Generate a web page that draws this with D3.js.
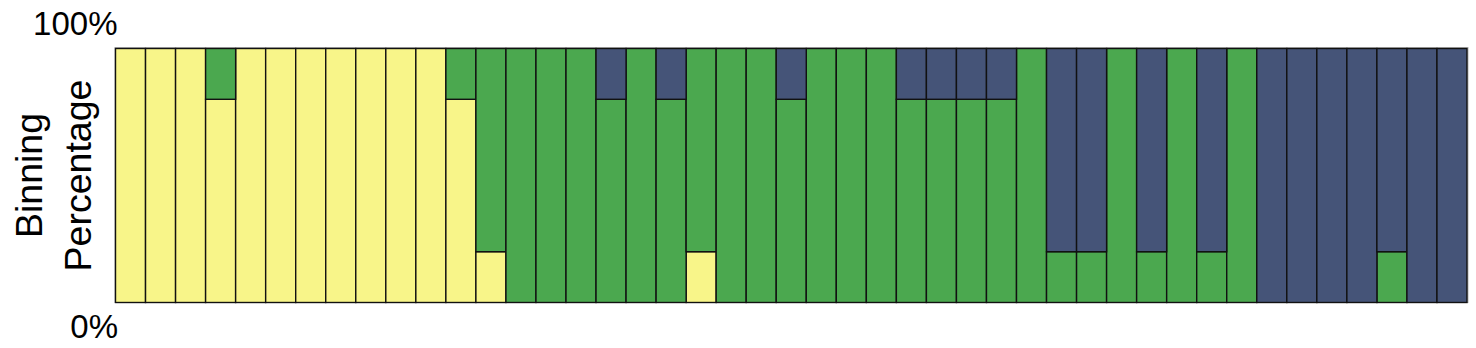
<!DOCTYPE html>
<html lang="en">
<head>
    <title>Binning Percentage</title>
    <script src="https://d3js.org/d3.v7.min.js"></script>
    <style>
        body { margin: 0; background: #fff; }
        text { font-family: "Liberation Sans", Arial, sans-serif; fill: #000; }
    </style>
</head>
<body>
    <svg width="1476" height="348" id="mainsvg"></svg>

    <script>
        // one entry per sample (45 columns)
        const samples = ['s1','s2','s3','s4','s5','s6','s7','s8','s9','s10',
            's11','s12','s13','s14','s15','s16','s17','s18','s19','s20',
            's21','s22','s23','s24','s25','s26','s27','s28','s29','s30',
            's31','s32','s33','s34','s35','s36','s37','s38','s39','s40',
            's41','s42','s43','s44','s45']

        // percentages per bin, bottom -> top
        const yellowVals = [100,100,100,80,100,100,100,100,100,100,
            100,80,20,0,0,0,0,0,0,20,
            0,0,0,0,0,0,0,0,0,0,
            0,0,0,0,0,0,0,0,0,0,
            0,0,0,0,0]
        const greenVals = [0,0,0,20,0,0,0,0,0,0,
            0,20,80,100,100,100,80,100,80,80,
            100,100,80,100,100,100,80,80,80,80,
            100,20,20,100,20,100,20,100,0,0,
            0,0,20,0,0]
        const navyVals = [0,0,0,0,0,0,0,0,0,0,
            0,0,0,0,0,0,20,0,20,0,
            0,0,20,0,0,0,20,20,20,20,
            0,80,80,0,80,0,80,0,100,100,
            100,100,80,100,100]

        const seriesKeys = ['yellow', 'green', 'navy']
        const seriesColors = ['#F8F589', '#4BA84F', '#455478']
        const tickLabels = ['0%', '100%']
        const yLabelLines = ['Binning', 'Percentage']

        const svg = d3.select('#mainsvg')
        const margin = {top: 48.5, right: 9, bottom: 45.5, left: 115.5}
        const width = +svg.attr('width')
        const height = +svg.attr('height')
        const innerWidth = width - margin.left - margin.right
        const innerHeight = height - margin.top - margin.bottom

        const data = samples.map((s, i) => ({
            sample: s,
            yellow: yellowVals[i],
            green: greenVals[i],
            navy: navyVals[i]
        }))

        const xScale = d3.scaleBand()
            .domain(samples)
            .range([0, innerWidth])
            .padding(0)

        const yScale = d3.scaleLinear()
            .domain([0, 100])
            .range([innerHeight, 0])

        const color = d3.scaleOrdinal().domain(seriesKeys).range(seriesColors)

        const stacked = d3.stack().keys(seriesKeys)(data)

        const g = svg.append('g')
            .attr('transform', `translate(${margin.left}, ${margin.top})`)

        // faint frame behind the bars
        g.append('rect')
            .attr('x', -0.5)
            .attr('y', -1)
            .attr('width', innerWidth + 1.5)
            .attr('height', innerHeight + 1)
            .attr('fill', 'none')
            .attr('stroke', '#b4b4b4')
            .attr('stroke-width', 1)

        g.selectAll('.layer')
            .data(stacked)
            .join('g')
            .attr('class', 'layer')
            .attr('fill', d => color(d.key))
            .selectAll('rect')
            .data(d => d.filter(p => p[1] - p[0] > 0))
            .join('rect')
            .attr('x', d => xScale(d.data.sample))
            .attr('y', d => yScale(d[1]))
            .attr('width', xScale.bandwidth())
            .attr('height', d => yScale(d[0]) - yScale(d[1]))
            .attr('stroke', '#111')
            .attr('stroke-width', 1.4)

        // 0% / 100% labels sit under and over the plot's left corner
        g.append('text')
            .text(tickLabels[1])
            .attr('x', 2)
            .attr('y', yScale(100) - 14)
            .attr('text-anchor', 'end')
            .attr('font-size', '33px')

        g.append('text')
            .text(tickLabels[0])
            .attr('x', 2.5)
            .attr('y', yScale(0) + 35.5)
            .attr('text-anchor', 'end')
            .attr('font-size', '33px')

        // two-line rotated y label, one text per line
        const labelX = [42, 91]
        svg.selectAll('.ylabel')
            .data(yLabelLines)
            .join('text')
            .attr('class', 'ylabel')
            .attr('transform', (d, i) => `translate(${labelX[i]}, ${margin.top + innerHeight / 2}) rotate(-90)`)
            .attr('text-anchor', 'middle')
            .attr('font-size', '37.5px')
            .text(d => d)
    </script>
</body>
</html>
